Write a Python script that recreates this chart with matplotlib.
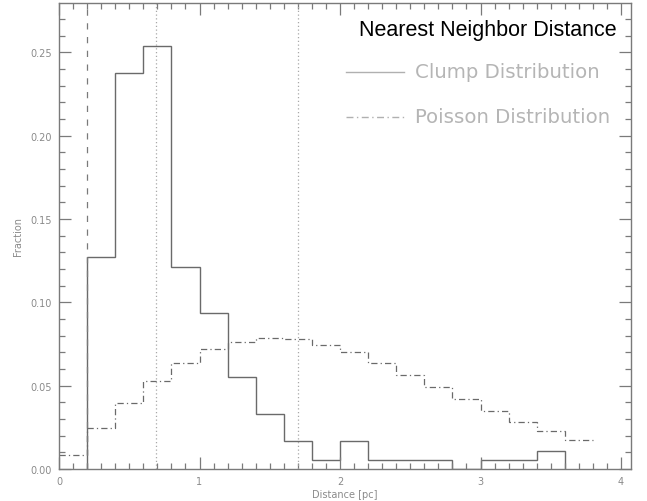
import numpy as np
import matplotlib
matplotlib.use("Agg")
import matplotlib.pyplot as plt
from matplotlib.ticker import MultipleLocator

# clump nearest-neighbour histogram, 0.2 pc bins starting at 0.2 pc
clump_edges = [0.2, 0.4, 0.6, 0.8, 1.0, 1.2, 1.4, 1.6, 1.8, 2.0,
               2.2, 2.4, 2.6, 2.8, 3.0, 3.2, 3.4, 3.6]
clump_frac = [0.1271, 0.2376, 0.2541, 0.1215, 0.0939, 0.0552, 0.0331, 0.0166, 0.0055,
              0.0166, 0.0055, 0.0055, 0.0055, 0.0, 0.0055, 0.0055, 0.0110]

# expected distribution for random (Poisson) placement
poisson_edges = [0.0, 0.2, 0.4, 0.6, 0.8, 1.0, 1.2, 1.4, 1.6, 1.8, 2.0,
                 2.2, 2.4, 2.6, 2.8, 3.0, 3.2, 3.4, 3.6, 3.8]
poisson_frac = [0.0084, 0.0246, 0.0396, 0.0530, 0.0634, 0.0720, 0.0764, 0.0784, 0.0778,
                0.0746, 0.0700, 0.0636, 0.0566, 0.0494, 0.0418, 0.0348, 0.0284, 0.0226, 0.0174]

resolution_limit = 0.2
marker_lines = [0.69, 1.70]

line_col = "#6a6a6a"
axis_col = "#7a7a7a"
label_col = "#8a8a8a"

fig = plt.figure(figsize=(6.47, 5.02), dpi=100)
ax = fig.add_axes([59 / 647, 1 - 470 / 502, 572 / 647, 466 / 502])

ax.stairs(clump_frac, clump_edges, baseline=0, color=line_col, lw=1.0)
ax.stairs(poisson_frac, poisson_edges, baseline=None, color=line_col, lw=0.9,
          linestyle=(0, (5, 2.5, 1, 2.5)))

ax.axvline(resolution_limit, color=axis_col, lw=0.9, linestyle=(0, (5, 6)))
for xv in marker_lines:
    ax.axvline(xv, color="#a8a8a8", lw=0.9, linestyle=(0, (1, 2)))

ax.set_xlim(0, 4.071)
ax.set_ylim(0, 0.2797)
ax.xaxis.set_major_locator(MultipleLocator(1))
ax.xaxis.set_minor_locator(MultipleLocator(0.1))
ax.yaxis.set_major_locator(MultipleLocator(0.05))
ax.yaxis.set_minor_locator(MultipleLocator(0.01))
ax.xaxis.set_major_formatter(plt.FuncFormatter(lambda v, p: f"{v:.0f}"))
ax.yaxis.set_major_formatter(plt.FuncFormatter(lambda v, p: f"{v:.2f}"))

ax.tick_params(which="both", direction="in", top=True, right=True,
               color=axis_col, labelcolor=label_col, labelsize=7, width=0.9)
ax.tick_params(which="major", length=8.5, pad=5)
ax.tick_params(which="minor", length=4.2)
for sp in ax.spines.values():
    sp.set_color(axis_col)
    sp.set_linewidth(1.0)

ax.set_xlabel("Distance [pc]", color=label_col, fontsize=7, labelpad=2)
ax.set_ylabel("Fraction", color=label_col, fontsize=7, labelpad=5)

ax.text(0.975, 0.943, "Nearest Neighbor Distance", transform=ax.transAxes,
        ha="right", va="center", fontsize=15.5, family="Liberation Sans", color="black")

# hand-drawn key
tr = ax.transAxes
ax.plot([0.502, 0.603], [0.852, 0.852], transform=tr, color="#b0b0b0", lw=1.0)
ax.plot([0.502, 0.603], [0.756, 0.756], transform=tr, color="#b0b0b0", lw=1.0,
        linestyle=(0, (5, 2.5, 1, 2.5)))
ax.text(0.623, 0.852, "Clump Distribution", transform=tr, ha="left", va="center",
        fontsize=14.2, color="#b5b5b5")
ax.text(0.623, 0.756, "Poisson Distribution", transform=tr, ha="left", va="center",
        fontsize=14.2, color="#b5b5b5")

fig.savefig("out.png", dpi=100)
